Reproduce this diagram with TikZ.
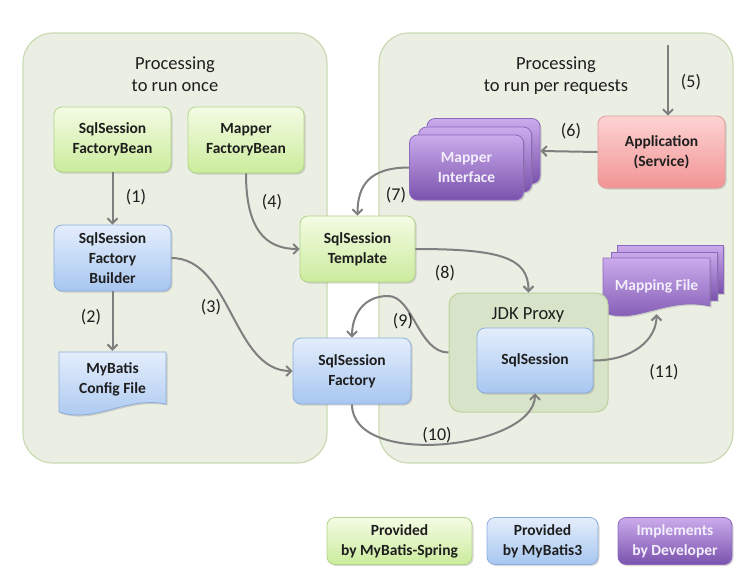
\documentclass[tikz,border=0pt]{standalone}
\usepackage{fontspec}
\setmainfont{Carlito}
\usetikzlibrary{arrows.meta,shadows}

\definecolor{panelfill}{HTML}{EBEFE3}
\definecolor{panelline}{HTML}{C9DAB2}
\definecolor{proxyfill}{HTML}{D8E4C9}
\definecolor{proxyline}{HTML}{BDD19F}
\definecolor{greentop}{HTML}{F4FBE4}
\definecolor{greenbot}{HTML}{CBEC9C}
\definecolor{greenline}{HTML}{B2D48A}
\definecolor{bluetop}{HTML}{E4EEFC}
\definecolor{bluebot}{HTML}{A7C6F0}
\definecolor{blueline}{HTML}{8CAEDD}
\definecolor{purpletop}{HTML}{CBABEC}
\definecolor{purplebot}{HTML}{7A52AD}
\definecolor{purpleline}{HTML}{8E6ABE}
\definecolor{redtop}{HTML}{FDD3D3}
\definecolor{redbot}{HTML}{F29494}
\definecolor{redline}{HTML}{E39A9A}
\definecolor{arrowgray}{HTML}{7F7F7F}
\definecolor{textdark}{HTML}{1E1E1E}
\definecolor{textlight}{HTML}{F3EEFB}

\tikzset{
	panel/.style={draw=panelline, fill=panelfill, line width=1.2pt, rounded corners=30pt},
	boxtext/.style={align=center, inner sep=2pt, font=\fontsize{15.5}{20}\selectfont\bfseries},
	box/.style={boxtext, rounded corners=8pt, line width=0.8pt,
		drop shadow={shadow xshift=1.5pt, shadow yshift=-1.5pt, opacity=0.3}},
	springbox/.style={box, draw=greenline, top color=greentop, bottom color=greenbot, text=textdark},
	batisbox/.style={box, draw=blueline, top color=bluetop, bottom color=bluebot, text=textdark},
	devbox/.style={box, draw=purpleline, top color=purpletop, bottom color=purplebot, text=textlight},
	appbox/.style={box, draw=redline, top color=redtop, bottom color=redbot, text=textdark},
	flow/.style={draw=arrowgray, line width=2pt, -{Straight Barb[length=5pt,width=10pt]}},
	num/.style={font=\fontsize{18}{20}\selectfont, text=textdark},
	title/.style={align=center, font=\fontsize{18.5}{22}\selectfont, text=textdark},
}

\begin{document}
\begin{tikzpicture}[x=1pt, y=-1pt]
	\useasboundingbox (0,0) rectangle (745,584);

	% the two processing areas
	\node[panel, minimum width=304, minimum height=430] (once) at (175,248) {};
	\node[panel, minimum width=354, minimum height=430] (perreq) at (556,248) {};
	\node[title] (oncetitle) at (175,74) {Processing\\to run once};
	\node[title] (perreqtitle) at (556,76) {Processing\\to run per requests};

	% run once
	\node[springbox, minimum width=117, minimum height=65] (sfb) at (112.5,139.5) {SqlSession\\FactoryBean};
	\node[springbox, minimum width=116, minimum height=66] (mfb) at (246,140) {Mapper\\FactoryBean};
	\node[batisbox, minimum width=117, minimum height=66] (bld) at (112.5,258) {SqlSession\\Factory\\Builder};
	\shade[top color=bluetop, bottom color=bluebot, draw=blueline, line width=0.8pt,
		drop shadow={shadow xshift=1.5pt, shadow yshift=-1.5pt, opacity=0.3}]
		(59,352) -- (166,352) -- (166,404) .. controls (125,396) and (95,424) .. (59,412) -- cycle;
	\node[boxtext, minimum width=107, minimum height=56, text=textdark] (cfg) at (112.5,379) {MyBatis\\Config File};

	% shared
	\node[springbox, minimum width=115, minimum height=66] (tpl) at (357.5,249) {SqlSession\\Template};
	\node[batisbox, minimum width=118, minimum height=66] (fac) at (352,371) {SqlSession\\Factory};

	% per requests
	\node[appbox, minimum width=127, minimum height=72] (app) at (661.5,152) {Application\\(Service)};
	\node[devbox, minimum width=113, minimum height=65] (mi3) at (483.5,151) {};
	\node[devbox, minimum width=113, minimum height=65] (mi2) at (475,159.5) {};
	\node[devbox, minimum width=114, minimum height=65] (mi) at (466.5,167.5) {Mapper\\Interface};

	\node[devbox, rounded corners=0pt, minimum width=106, minimum height=48] (mf3) at (670,269) {};
	\node[devbox, rounded corners=0pt, minimum width=106, minimum height=48] (mf2) at (664,276) {};
	\shade[top color=purpletop, bottom color=purplebot, draw=purpleline, line width=0.8pt,
		drop shadow={shadow xshift=1.5pt, shadow yshift=-1.5pt, opacity=0.3}]
		(603,258) -- (710,258) -- (710,306) .. controls (665,296) and (635,326) .. (603,312) -- cycle;
	\node[boxtext, minimum width=107, minimum height=56, text=textlight] (mf) at (656.5,286) {Mapping File};

	\node[draw=proxyline, fill=proxyfill, line width=1pt, rounded corners=12pt,
		minimum width=159, minimum height=119] (jdk) at (528.5,352.5) {};
	\node[title] (jdktitle) at (528,315) {JDK Proxy};
	\node[batisbox, minimum width=116, minimum height=65] (ss) at (535,360.5) {SqlSession};

	% connectors
	\coordinate (start5) at (668,45);
	\draw[flow] (sfb) -- (bld);
	\draw[flow] (bld) -- (cfg);
	\draw[flow] (bld.east) .. controls +(60,0) and +(-60,0) .. (fac.west);
	\draw[flow] (mfb.south) .. controls +(0,55) and +(-35,0) .. (tpl.west);
	\draw[flow] (start5) -- (start5 |- app.north);
	\draw[flow] (app.west) -- (mi3.east);
	\draw[flow] (mi.west) .. controls +(-40,0) and +(0,-30) .. (tpl.north);
	\draw[flow] (tpl.east) .. controls +(85,0) and +(0,-35) .. (jdk.north);
	\coordinate (top9) at (388,296);
	\draw[flow] (jdk.west) .. controls +(-30,0) and +(25,0) .. (top9) .. controls +(-25,0) and +(0,-22) .. (fac.north);
	\draw[flow] (fac.south) .. controls +(0,65) and +(0,55) .. (ss.south);
	\draw[flow] (ss.east) .. controls +(40,0) and +(0,25) .. (mf.south);

	% step numbers
	\node[num] (l1) at (136,197) {(1)};
	\node[num] (l2) at (91,317) {(2)};
	\node[num] (l3) at (211,307) {(3)};
	\node[num] (l4) at (272,202) {(4)};
	\node[num] (l5) at (691,82) {(5)};
	\node[num] (l6) at (571,131) {(6)};
	\node[num] (l7) at (396,195) {(7)};
	\node[num] (l8) at (445,273) {(8)};
	\node[num] (l9) at (403,321) {(9)};
	\node[num] (l10) at (437,435) {(10)};
	\node[num] (l11) at (664,372) {(11)};

	% legend
	\node[springbox, minimum width=145, minimum height=47] (leg1) at (399.5,541) {Provided\\by MyBatis-Spring};
	\node[batisbox, minimum width=111, minimum height=47] (leg2) at (542.5,541) {Provided\\by MyBatis3};
	\node[devbox, minimum width=114, minimum height=47] (leg3) at (675,541) {Implements\\by Developer};
\end{tikzpicture}
\end{document}
